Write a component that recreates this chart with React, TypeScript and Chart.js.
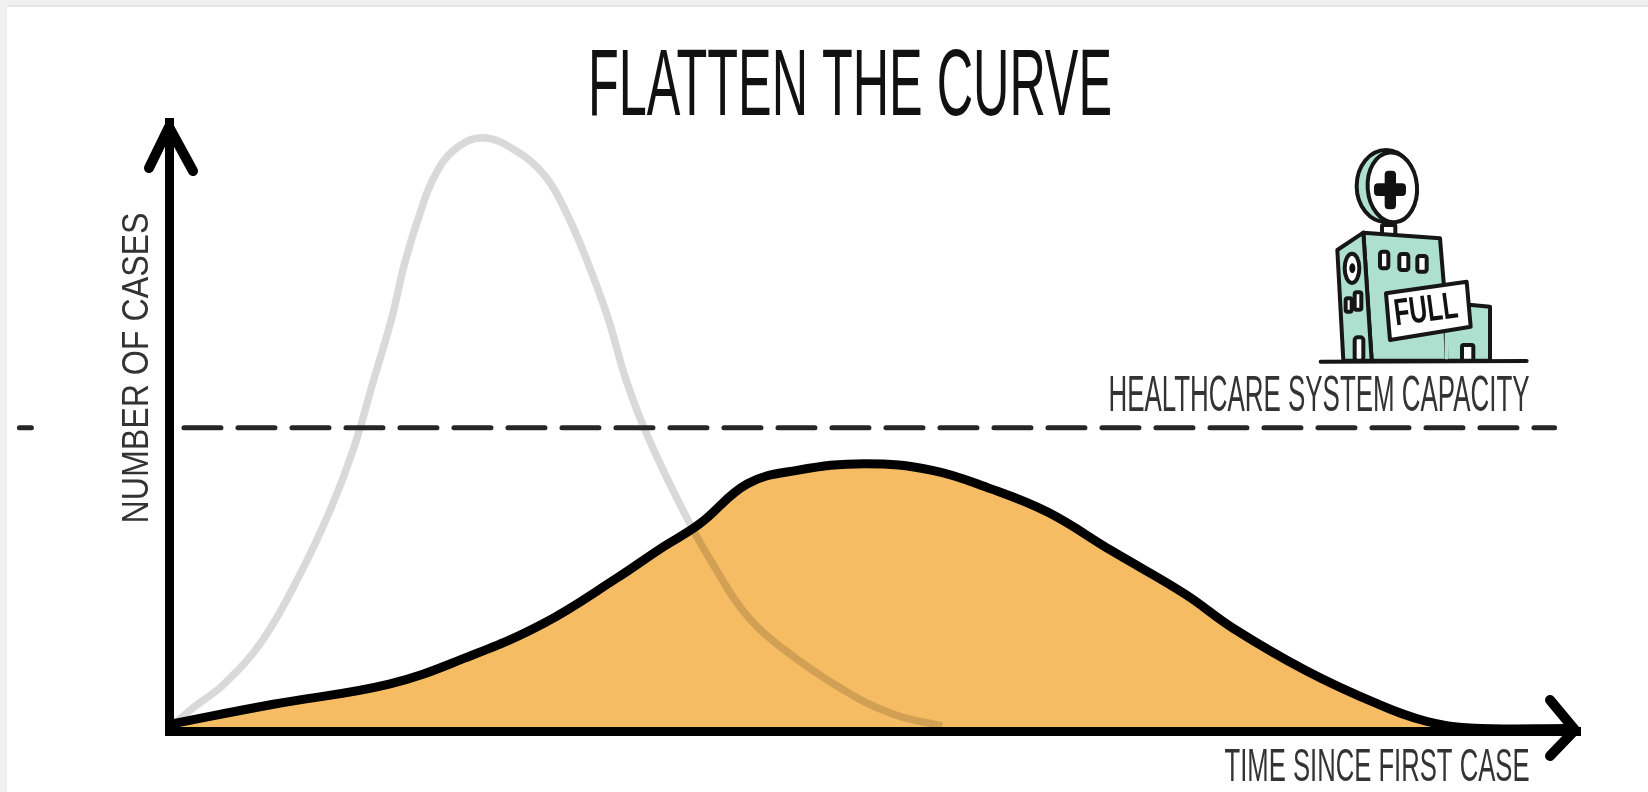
import React, { useEffect, useRef } from "react";
import { Chart, registerables } from "chart.js";

Chart.register(...registerables);

const titleText = "FLATTEN THE CURVE";
const yAxisText = "NUMBER OF CASES";
const xAxisText = "TIME SINCE FIRST CASE";
const capacityText = "HEALTHCARE SYSTEM CAPACITY";
const badgeText = "FULL";

const steepTime = [0.2, 1.7, 3.9, 6.6, 9.3, 11.5, 13.1, 14.5, 15.8, 16.7, 17.7, 18.8, 20.2, 22.2, 24.5, 26.7, 28.3, 29.7, 31.1, 32.4, 34, 36.7, 38.7, 40.8, 43.4, 47.9, 51.3, 54.8];
const steepCases = [0.8, 3.8, 7.7, 14.8, 25.8, 36.7, 46.5, 57.6, 67.9, 76.8, 84.4, 91, 95.4, 97.4, 95.4, 91, 84.4, 76.8, 67.9, 57.6, 48, 35, 26.8, 19.4, 13.7, 6.6, 2.8, 0.8];

const flatTime = [0, 7.4, 15.6, 21, 26.5, 31.8, 34.8, 37.6, 41, 44.5, 49.3, 54.1, 58.2, 62.3, 66.8, 72, 75.4, 80.6, 85.7, 89.1, 92.2, 99.7];
const flatCases = [1.1, 4.4, 7.7, 12, 17.6, 25.2, 29.9, 34, 40.6, 42.8, 43.9, 42.8, 39.8, 35.9, 29.6, 22.5, 16.9, 9.9, 4.4, 1.6, 0.5, 0.4];

const capacityTime = [1.06, 98.2];
const capacityLevel = [49.8, 49.8];
const capacityStubTime = [-10.6, -9.75];

const toPoints = (xs: number[], ys: number[]) => xs.map((x, i) => ({ x, y: ys[i] }));

const FONT = '"Liberation Sans Narrow", "Liberation Sans", sans-serif';
const INK = "#262626";
const TEAL = "#ADE0CE";

function drawLabel(ctx: CanvasRenderingContext2D, text: string, x: number, y: number, width: number, size: number, color: string, rotate = 0) {
  ctx.save();
  ctx.translate(x, y);
  if (rotate) ctx.rotate(rotate);
  ctx.font = `${size}px ${FONT}`;
  ctx.fillStyle = color;
  ctx.textAlign = "center";
  ctx.textBaseline = "middle";
  ctx.fillText(text, 0, 0, width);
  ctx.restore();
}

function poly(ctx: CanvasRenderingContext2D, pts: number[][], fill?: string) {
  ctx.beginPath();
  pts.forEach(([x, y], i) => (i ? ctx.lineTo(x, y) : ctx.moveTo(x, y)));
  ctx.closePath();
  if (fill) {
    ctx.fillStyle = fill;
    ctx.fill();
  }
  ctx.stroke();
}

function box(ctx: CanvasRenderingContext2D, x: number, y: number, w: number, h: number, r = 7) {
  ctx.beginPath();
  ctx.roundRect(x, y, w, h, r);
  ctx.fillStyle = "#fff";
  ctx.fill();
  ctx.stroke();
}

function drawHospital(ctx: CanvasRenderingContext2D) {
  ctx.save();
  ctx.translate(1280, 130);
  ctx.scale(1 / 3, 1 / 3);
  ctx.strokeStyle = "#161616";
  ctx.lineWidth = 12;
  ctx.lineJoin = "round";
  ctx.lineCap = "round";

  // sign on the roof
  box(ctx, 306, 285, 40, 30, 4);
  ctx.beginPath();
  ctx.ellipse(318, 168, 88, 108, 0, 0, Math.PI * 2);
  ctx.fillStyle = TEAL;
  ctx.fill();
  ctx.stroke();
  ctx.beginPath();
  ctx.ellipse(337, 172, 74, 105, -0.08, 0, Math.PI * 2);
  ctx.fillStyle = "#fff";
  ctx.fill();
  ctx.stroke();
  ctx.fillStyle = "#111";
  ctx.beginPath();
  ctx.roundRect(314, 122, 34, 116, 12);
  ctx.roundRect(282, 160, 96, 38, 12);
  ctx.fill();

  // building
  poly(ctx, [[575, 525], [630, 530], [630, 692], [400, 692], [400, 525]], TEAL);
  poly(ctx, [[250, 308], [480, 325], [492, 470], [500, 692], [275, 692]], TEAL);
  ctx.save();
  ctx.strokeStyle = TEAL;
  ctx.beginPath();
  ctx.moveTo(500, 540);
  ctx.lineTo(500, 684);
  ctx.stroke();
  ctx.restore();
  poly(ctx, [[172, 360], [250, 308], [275, 692], [190, 692]], TEAL);

  // windows and doors
  box(ctx, 300, 365, 25, 50);
  box(ctx, 358, 372, 27, 48);
  box(ctx, 412, 378, 28, 47);
  box(ctx, 197, 505, 18, 40, 6);
  box(ctx, 224, 487, 20, 52, 6);
  box(ctx, 224, 622, 26, 70, 9);
  box(ctx, 546, 645, 34, 47, 5);

  // side emblem
  ctx.beginPath();
  ctx.ellipse(216, 415, 22, 44, 0, 0, Math.PI * 2);
  ctx.fillStyle = "#fff";
  ctx.fill();
  ctx.stroke();
  ctx.fillStyle = "#111";
  ctx.beginPath();
  ctx.ellipse(217, 415, 9, 15, 0, 0, Math.PI * 2);
  ctx.fill();

  // badge
  poly(ctx, [[318, 490], [560, 455], [572, 590], [330, 630]], "#fff");

  // ground
  ctx.beginPath();
  ctx.moveTo(122, 695);
  ctx.lineTo(740, 693);
  ctx.stroke();
  ctx.restore();

  ctx.save();
  ctx.translate(1426, 311);
  ctx.rotate(-0.13);
  ctx.font = `bold 38px ${FONT}`;
  ctx.fillStyle = "#111";
  ctx.textAlign = "center";
  ctx.textBaseline = "middle";
  ctx.fillText(badgeText, 0, 0, 64);
  ctx.restore();
}

function arrowHead(ctx: CanvasRenderingContext2D, tip: number[], a: number[], b: number[]) {
  ctx.save();
  ctx.strokeStyle = "#000";
  ctx.lineWidth = 10;
  ctx.lineCap = "round";
  ctx.lineJoin = "round";
  ctx.beginPath();
  ctx.moveTo(a[0], a[1]);
  ctx.lineTo(tip[0], tip[1]);
  ctx.lineTo(b[0], b[1]);
  ctx.stroke();
  ctx.restore();
}

const artPlugin = {
  id: "flattenArt",
  afterDraw(chart: any) {
    const { ctx, chartArea: a } = chart;
    const midY = a.bottom;
    arrowHead(ctx, [a.left, a.top + 5], [a.left - 20, a.top + 46], [a.left + 24, a.top + 49]);
    arrowHead(ctx, [a.right - 5, midY - 1], [a.right - 30, midY - 31], [a.right - 30, midY + 25]);
    drawHospital(ctx);
    drawLabel(ctx, titleText, 850, 89, 524, 95, "#111");
    drawLabel(ctx, capacityText, 1319, 397, 421, 50, "#333");
    drawLabel(ctx, xAxisText, 1377, 768, 305, 46, "#333");
    drawLabel(ctx, yAxisText, 138, 368, 311, 37, "#333", -Math.PI / 2);
  },
};

export default function App() {
  const ref = useRef<HTMLCanvasElement>(null);
  useEffect(() => {
    const chart = new Chart(ref.current!, {
      type: "line",
      plugins: [artPlugin],
      data: {
        datasets: [
          {
            label: "Healthcare system capacity",
            data: toPoints(capacityTime, capacityLevel),
            borderColor: INK,
            borderWidth: 5,
            borderDash: [37, 17],
            borderCapStyle: "round",
            pointRadius: 0,
            clip: false,
            order: 1,
          },
          {
            label: "Capacity stub",
            data: toPoints(capacityStubTime, capacityLevel),
            borderColor: INK,
            borderWidth: 5,
            borderCapStyle: "round",
            pointRadius: 0,
            clip: false,
            order: 1,
          },
          {
            label: "Flattened curve",
            data: toPoints(flatTime, flatCases),
            borderColor: "#000",
            borderWidth: 9,
            backgroundColor: "#F6BC63",
            fill: "origin",
            tension: 0.4,
            pointRadius: 0,
            clip: false,
            order: 0,
          },
          {
            label: "Unmitigated curve",
            data: toPoints(steepTime, steepCases),
            borderColor: "rgba(0,0,0,0.15)",
            borderWidth: 7.5,
            tension: 0.4,
            pointRadius: 0,
            clip: false,
            order: 2,
          },
        ],
      },
      options: {
        responsive: false,
        animation: false,
        devicePixelRatio: 1,
        layout: { padding: { left: 161, right: 68, top: 122, bottom: 53 } },
        plugins: {
          legend: { display: false },
          tooltip: { enabled: false },
          filler: { drawTime: "beforeDatasetsDraw" },
        },
        scales: {
          x: {
            type: "linear",
            min: 0,
            max: 100,
            grid: { display: false },
            ticks: { display: false },
            border: { display: true, color: "#000", width: 9, z: 1 },
          },
          y: {
            min: 0,
            max: 100,
            grid: { display: false },
            ticks: { display: false },
            border: { display: true, color: "#000", width: 9, z: 1 },
          },
        },
      } as any,
    });
    return () => chart.destroy();
  }, []);

  return (
    <div style={{ position: "absolute", left: 0, top: 0, width: 1648, height: 792, background: "#f0f0f0", overflow: "hidden" }}>
      <div style={{ position: "absolute", left: 7, top: 5, right: 0, bottom: 0, background: "#fff", borderTop: "2px solid #e6e6e6" }} />
      <canvas ref={ref} width={1648} height={792} style={{ position: "absolute", left: 0, top: 0, width: 1648, height: 792, filter: "blur(0.6px)" }} />
    </div>
  );
}
